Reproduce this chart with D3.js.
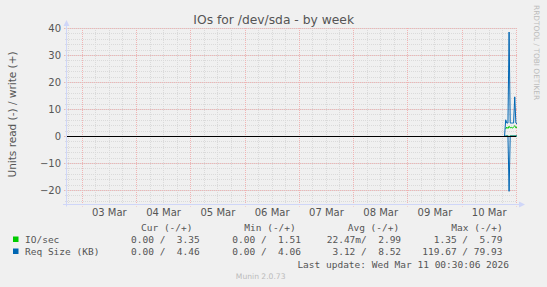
<!DOCTYPE html>
<html>
<head>
<meta charset="utf-8">
<script src="https://cdn.jsdelivr.net/npm/d3@7"></script>
<style>
body { margin: 0; background: #f0f0f0; }
svg text { font-family: "DejaVu Sans", sans-serif; fill: #555; }
svg text.mono { font-family: "DejaVu Sans Mono", monospace; white-space: pre; font-size: 9.5px; }
</style>
</head>
<body>
<svg width="547" height="287"></svg>
<script>
var title = "IOs for /dev/sda - by week";
var yLabel = "Units read (-) / write (+)";

// 30 minute samples at the end of the week (UTC)
var sampleTimes = ["2026-03-10 19:00", "2026-03-10 19:30", "2026-03-10 20:00", "2026-03-10 20:30",
	"2026-03-10 21:00", "2026-03-10 21:30", "2026-03-10 22:00", "2026-03-10 22:30",
	"2026-03-10 23:00", "2026-03-10 23:30", "2026-03-11 00:00", "2026-03-11 00:30"];
var ioRead   = [NaN, 0, 0, 0, 0.2, 0, 0, 0, 0, 0, 0, 0];
var ioWrite  = [NaN, 2.6, 3.3, 2.8, 3.6, 3.0, 3.2, 2.9, 3.4, 3.8, 3.0, 3.35];
var reqRead  = [0, 0, 0, 0, 20.5, 0, 0, 0, 0, 0, 0, 0];
var reqWrite = [0, 6.0, 4.8, 4.8, 38.5, 4.8, 4.8, 4.8, 4.8, 14.5, 4.8, 4.46];

var yTicks = [-20, -10, 0, 10, 20, 30, 40];
var dayLabels = ["03 Mar", "04 Mar", "05 Mar", "06 Mar", "07 Mar", "08 Mar", "09 Mar", "10 Mar"];

var legendNames = ["IO/sec", "Req Size (KB)"];
var legendColors = ["#00cc00", "#0066b3"];
var statHeaders = ["Cur (-/+)", "Min (-/+)", "Avg (-/+)", "Max (-/+)"];
var curRead = ["0.00", "0.00"], curWrite = ["3.35", "4.46"];
var minRead = ["0.00", "0.00"], minWrite = ["1.51", "4.06"];
var avgRead = ["22.47m", "3.12"], avgWrite = ["2.99", "8.52"];
var maxRead = ["1.35", "119.67"], maxWrite = ["5.79", "79.93"];
var lastUpdate = "Last update: Wed Mar 11 00:30:06 2026";
var footer = "Munin 2.0.73";
var watermark = "RRDTOOL / TOBI OETIKER";

var parse = d3.utcParse("%Y-%m-%d %H:%M");
var times = sampleTimes.map(parse);

var plotLeft = 67, plotRight = 517, plotTop = 28, plotBottom = 203.5;
var x = d3.scaleUtc()
	.domain([parse("2026-03-02 17:30"), parse("2026-03-11 00:30")])
	.range([plotLeft, plotRight]);
var y = d3.scaleLinear().domain([-25, 40]).range([plotBottom, plotTop]);

var svg = d3.select("svg");
svg.append("rect").attr("width", 547).attr("height", 287).attr("fill", "#f0f0f0");

function px(v) { return Math.round(v) + 0.5; }

var minorCol = "#dadada", majorCol = "#f0b4b4";

// minor grid
var g = svg.append("g");
g.selectAll("line.hmin").data(d3.range(-24, 41, 2)).enter().append("line")
	.attr("x1", plotLeft - 2).attr("x2", plotRight)
	.attr("y1", function(d) {return px(y(d))}).attr("y2", function(d) {return px(y(d))})
	.attr("stroke", minorCol).attr("stroke-dasharray", "1,1");
var sixHours = d3.utcHour.every(6).range(x.domain()[0], x.domain()[1]);
g.selectAll("line.vmin").data(sixHours).enter().append("line")
	.attr("x1", function(d) {return px(x(d))}).attr("x2", function(d) {return px(x(d))})
	.attr("y1", plotTop).attr("y2", plotBottom + 2)
	.attr("stroke", minorCol).attr("stroke-dasharray", "1,1");
// major grid
g.selectAll("line.hmaj").data(yTicks).enter().append("line")
	.attr("x1", plotLeft - 3).attr("x2", plotRight)
	.attr("y1", function(d) {return px(y(d))}).attr("y2", function(d) {return px(y(d))})
	.attr("stroke", majorCol).attr("stroke-dasharray", "1,1");
var midnights = d3.utcDay.range(x.domain()[0], x.domain()[1]);
g.selectAll("line.vmaj").data(midnights).enter().append("line")
	.attr("x1", function(d) {return px(x(d))}).attr("x2", function(d) {return px(x(d))})
	.attr("y1", plotTop).attr("y2", plotBottom + 3)
	.attr("stroke", majorCol).attr("stroke-dasharray", "1,1");

// axes lines with arrows
var axisCol = "#cfd6f8";
svg.append("line").attr("x1", plotLeft - 0.5).attr("x2", plotLeft - 0.5).attr("y1", plotBottom + 3).attr("y2", plotTop - 5)
	.attr("stroke", axisCol);
svg.append("path").attr("d", "M" + (plotLeft - 3.5) + "," + (plotTop - 2) + "L" + (plotLeft - 0.5) + "," + (plotTop - 8) + "L" + (plotLeft + 2.5) + "," + (plotTop - 2) + "Z")
	.attr("fill", axisCol);
svg.append("line").attr("x1", plotLeft - 4).attr("x2", plotRight + 4).attr("y1", px(plotBottom)).attr("y2", px(plotBottom))
	.attr("stroke", axisCol);
svg.append("path").attr("d", "M" + (plotRight + 2) + "," + (px(plotBottom) - 3) + "L" + (plotRight + 8) + "," + px(plotBottom) + "L" + (plotRight + 2) + "," + (px(plotBottom) + 3) + "Z")
	.attr("fill", axisCol);

// y axis labels
var yAxis = svg.append("g").attr("transform", "translate(" + (plotLeft - 6) + ",0)")
	.call(d3.axisLeft(y).tickValues(yTicks).tickSize(0).tickPadding(0));
yAxis.select(".domain").remove();
yAxis.selectAll("text").attr("font-size", "10px").attr("font-family", "DejaVu Sans").attr("fill", "#555");

// x axis labels at noon
var noons = midnights.slice(0, dayLabels.length).map(function(d) {return d3.utcHour.offset(d, 12)});
var xAxis = svg.append("g").attr("transform", "translate(0," + (plotBottom + 5) + ")")
	.call(d3.axisBottom(x).tickValues(noons).tickSize(0).tickPadding(0)
		.tickFormat(function(d, i) {return dayLabels[i]}));
xAxis.select(".domain").remove();
xAxis.selectAll("text").attr("font-size", "10px").attr("font-family", "DejaVu Sans").attr("fill", "#555");

// series
function drawSeries(values, sign, color) {
	var line = d3.line()
		.defined(function(d) {return !isNaN(d)})
		.x(function(d, i) {return x(times[i])})
		.y(function(d) {return y(sign * d)});
	svg.append("path").datum(values)
		.attr("d", line).attr("fill", "none")
		.attr("stroke", color).attr("stroke-width", 1);
}
drawSeries(ioRead, -1, legendColors[0]);
drawSeries(ioWrite, 1, legendColors[0]);
drawSeries(reqRead, -1, legendColors[1]);
drawSeries(reqWrite, 1, legendColors[1]);

// zero line
svg.append("line").attr("x1", plotLeft).attr("x2", plotRight - 1).attr("y1", px(y(0))).attr("y2", px(y(0)))
	.attr("stroke", "#000").attr("stroke-width", 1);

// titles
svg.append("text").attr("x", 273.7).attr("y", 23.5).attr("text-anchor", "middle")
	.attr("font-size", "12.3px").text(title);
svg.append("text").attr("transform", "translate(15.5,114.5) rotate(-90)").attr("text-anchor", "middle")
	.attr("font-size", "10.5px").text(yLabel);
svg.append("text").attr("transform", "translate(534,5) rotate(90)")
	.attr("font-size", "7.4px").style("fill", "#bbb").text(watermark);

// legend
var colX = [119.6, 220.9, 321.0, 422.3];
var headX = [141, 244.3, 347.7, 451.3];
function fmt(v) {
	if (v.slice(-1) === "m") return v.slice(0, -1).padStart(6) + "m";
	return v.padStart(6) + " ";
}
svg.selectAll("text.head").data(statHeaders).enter().append("text")
	.attr("class", "mono").attr("x", function(d, i) {return headX[i]}).attr("y", 231)
	.text(function(d) {return d});
var stats = [[curRead, curWrite], [minRead, minWrite], [avgRead, avgWrite], [maxRead, maxWrite]];
var rowY = [243, 255];
legendNames.forEach(function(name, r) {
	svg.append("rect").attr("x", 13).attr("y", rowY[r] - 6.5).attr("width", 5.5).attr("height", 5.5)
		.attr("fill", legendColors[r]);
	svg.append("text").attr("class", "mono").attr("x", 25).attr("y", rowY[r]).text(name);
	stats.forEach(function(s, c) {
		svg.append("text").attr("class", "mono").attr("x", colX[c]).attr("y", rowY[r])
			.text(fmt(s[0][r]) + "/" + fmt(s[1][r]));
	});
});
svg.append("text").attr("class", "mono").attr("x", 509).attr("y", 267.5).attr("text-anchor", "end")
	.text(lastUpdate);
svg.append("text").attr("x", 260.7).attr("y", 279).attr("text-anchor", "middle")
	.attr("font-size", "7.6px").style("fill", "#bbb").text(footer);
</script>
</body>
</html>
